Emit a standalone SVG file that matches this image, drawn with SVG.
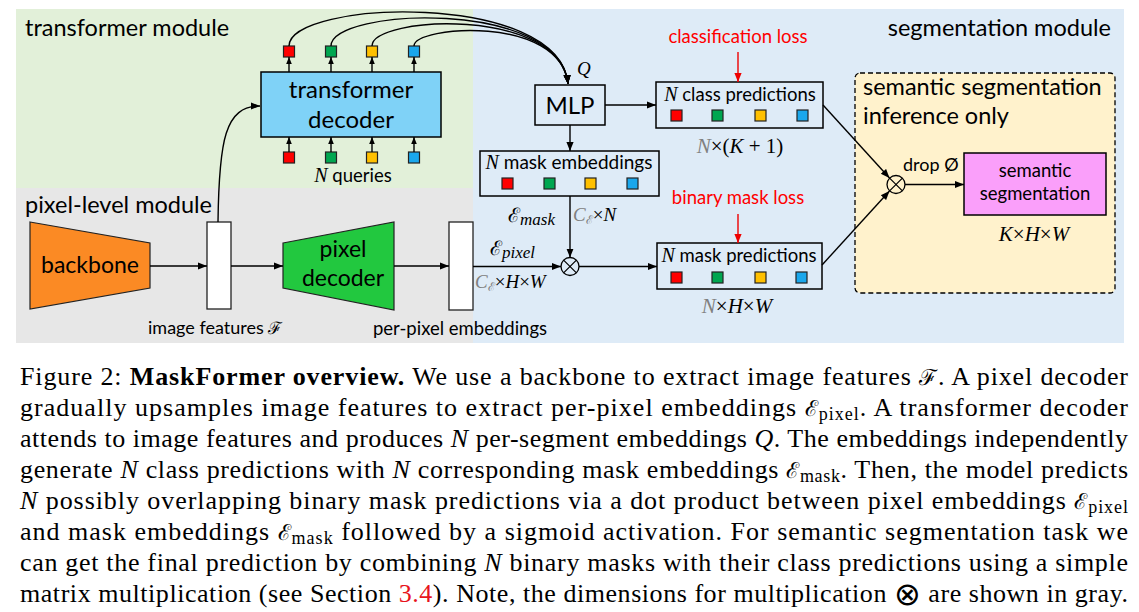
<svg xmlns="http://www.w3.org/2000/svg" width="1139" height="612" viewBox="0 0 1139 612">
<defs>
<marker id="arr" viewBox="0 0 10 10" refX="10" refY="5" markerWidth="9" markerHeight="9" markerUnits="userSpaceOnUse" orient="auto">
<path d="M0,1 L10,5 L0,9 z" fill="#000"/>
</marker>
<marker id="arrs" viewBox="0 0 10 10" refX="10" refY="5" markerWidth="7" markerHeight="7" markerUnits="userSpaceOnUse" orient="auto">
<path d="M0,1 L10,5 L0,9 z" fill="#000"/>
</marker>
<marker id="arrr" viewBox="0 0 10 10" refX="10" refY="5" markerWidth="9" markerHeight="9" markerUnits="userSpaceOnUse" orient="auto">
<path d="M0,1 L10,5 L0,9 z" fill="#e00"/>
</marker>
</defs>
<style>
.lbl{font-family:Lato,"Open Sans","Liberation Sans",sans-serif;fill:#000}
.mod{font-size:23.5px}
.box{stroke:#000;stroke-width:1.5}
.sq{stroke:#222;stroke-width:1.2}
.r{fill:#ff0000}.g{fill:#00a650}.y{fill:#ffc000}.b{fill:#1aa7ec}
.ln{fill:none;stroke:#000;stroke-width:1.4}
.red{fill:none;stroke:#e00;stroke-width:1.4}
.m{font-family:"Liberation Serif","DejaVu Serif",serif}
.it{font-style:italic}
.gray{fill:#808080}
.loss{font-family:Lato,"Open Sans","Liberation Sans",sans-serif;fill:#ff0000;font-size:18.5px}
.cap{font-family:"Liberation Serif","Times New Roman",serif;font-size:26px;fill:#000}
.cal{font-family:"DejaVu Serif",serif}
</style>

<!-- backgrounds -->
<rect x="16" y="9" width="457" height="179" fill="#e2f0d9"/>
<rect x="16" y="188" width="457" height="155" fill="#e7e7e7"/>
<rect x="473" y="9" width="651" height="334" fill="#deebf7"/>
<text class="lbl mod" x="25" y="36">transformer module</text>
<text class="lbl mod" x="25" y="213">pixel-level module</text>
<text class="lbl mod" x="1111" y="36" text-anchor="end">segmentation module</text>

<!-- segmentation inference area -->
<g id="inference">
<rect x="855" y="73" width="260" height="220" rx="5" fill="#fff2cc" stroke="#000" stroke-width="1.3" stroke-dasharray="5,3"/>
<text class="lbl" x="863" y="95" font-size="23.5">semantic segmentation</text>
<text class="lbl" x="863" y="124" font-size="23.5">inference only</text>
</g>

<g id="transformer-decoder">
<rect class="box" x="261" y="72" width="180" height="65" fill="#7fd2f7"/>
<text class="lbl" x="351" y="98" font-size="24" text-anchor="middle">transformer</text>
<text class="lbl" x="351" y="128" font-size="24" text-anchor="middle">decoder</text>
</g>

<g id="output-queries">
<rect class="sq r" x="283.5" y="46" width="11" height="11"/>
<rect class="sq g" x="325.5" y="46" width="11" height="11"/>
<rect class="sq y" x="366.5" y="46" width="11" height="11"/>
<rect class="sq b" x="408.5" y="46" width="11" height="11"/>
</g>

<g id="queries">
<rect class="sq r" x="283.5" y="152" width="11" height="11"/>
<rect class="sq g" x="325.5" y="152" width="11" height="11"/>
<rect class="sq y" x="366.5" y="152" width="11" height="11"/>
<rect class="sq b" x="408.5" y="152" width="11" height="11"/>
<text x="353" y="182" text-anchor="middle"><tspan class="m it" font-size="20">N</tspan><tspan class="lbl" font-size="18.5"> queries</tspan></text>
</g>

<g id="mlp">
<rect class="box" x="535" y="85" width="70" height="40" fill="#deebf7"/>
<text class="lbl" x="570" y="114" font-size="24" text-anchor="middle">MLP</text>
</g>

<g id="class-predictions">
<rect class="box" x="656" y="82" width="167" height="46" fill="#deebf7"/>
<text x="740" y="101" text-anchor="middle"><tspan class="m it" font-size="20">N</tspan><tspan class="lbl" font-size="18.5"> class predictions</tspan></text>
<rect class="sq r" x="671" y="110" width="11" height="11"/>
<rect class="sq g" x="712" y="110" width="11" height="11"/>
<rect class="sq y" x="755" y="110" width="11" height="11"/>
<rect class="sq b" x="797" y="110" width="11" height="11"/>
<text class="m" x="740" y="153" font-size="21" text-anchor="middle"><tspan class="it gray">N</tspan>×(<tspan class="it">K</tspan> + 1)</text>
<text class="loss" x="738" y="43" text-anchor="middle">classification loss</text>
</g>

<g id="mask-embeddings">
<rect class="box" x="480" y="151" width="179" height="45" fill="#deebf7"/>
<text x="569" y="169" text-anchor="middle"><tspan class="m it" font-size="20">N</tspan><tspan class="lbl" font-size="19"> mask embeddings</tspan></text>
<rect class="sq r" x="502" y="178" width="11" height="11"/>
<rect class="sq g" x="544" y="178" width="11" height="11"/>
<rect class="sq y" x="585" y="178" width="11" height="11"/>
<rect class="sq b" x="627" y="178" width="11" height="11"/>
<text x="508" y="222"><tspan class="cal" font-size="20">ℰ</tspan><tspan class="m it" font-size="17" dy="3">mask</tspan></text>
<text class="m" x="573" y="221" font-size="19"><tspan class="it gray">C</tspan><tspan class="cal gray" font-size="12" dy="3">ℰ</tspan><tspan dy="-3">×</tspan><tspan class="it">N</tspan></text>
</g>

<g id="backbone">
<path d="M30,222 L150,243 L150,288 L30,309 Z" fill="#fb8a24" stroke="#222" stroke-width="1.2"/>
<text class="lbl" x="90" y="273" font-size="23" text-anchor="middle">backbone</text>
</g>

<g id="image-features">
<rect x="207" y="222" width="24" height="87" fill="#fff" stroke="#222" stroke-width="1.3"/>
<text x="148" y="334"><tspan class="lbl" font-size="18">image features </tspan><tspan class="cal" font-size="17">ℱ</tspan></text>
</g>

<g id="pixel-decoder">
<path d="M283,243 L394,222 L394,310 L283,288 Z" fill="#22c83f" stroke="#222" stroke-width="1.2"/>
<text class="lbl" x="343" y="257" font-size="23" text-anchor="middle">pixel</text>
<text class="lbl" x="343" y="286" font-size="23" text-anchor="middle">decoder</text>
</g>

<g id="per-pixel-embeddings">
<rect x="449" y="222" width="24" height="88" fill="#fff" stroke="#222" stroke-width="1.3"/>
<text class="lbl" x="460" y="335" font-size="18.5" text-anchor="middle">per-pixel embeddings</text>
<text x="490" y="255"><tspan class="cal" font-size="20">ℰ</tspan><tspan class="m it" font-size="17" dy="3">pixel</tspan></text>
<text class="m" x="475" y="288" font-size="19"><tspan class="it gray">C</tspan><tspan class="cal gray" font-size="12" dy="3">ℰ</tspan><tspan dy="-3">×</tspan><tspan class="it">H</tspan>×<tspan class="it">W</tspan></text>
</g>

<g id="mult1">
<circle cx="570" cy="266.5" r="9" fill="none" stroke="#000" stroke-width="1.3"/>
<path d="M563.6,260.1 L576.4,272.9 M576.4,260.1 L563.6,272.9" stroke="#000" stroke-width="1.2"/>
</g>

<g id="mask-predictions">
<rect class="box" x="657" y="243" width="165" height="46" fill="#deebf7"/>
<text x="739" y="262" text-anchor="middle"><tspan class="m it" font-size="20">N</tspan><tspan class="lbl" font-size="18.5"> mask predictions</tspan></text>
<rect class="sq r" x="671" y="272" width="11" height="11"/>
<rect class="sq g" x="712" y="272" width="11" height="11"/>
<rect class="sq y" x="755" y="272" width="11" height="11"/>
<rect class="sq b" x="796" y="272" width="11" height="11"/>
<text class="m" x="737" y="313" font-size="21" text-anchor="middle"><tspan class="it gray">N</tspan>×<tspan class="it">H</tspan>×<tspan class="it">W</tspan></text>
<text class="loss" x="738" y="204" text-anchor="middle">binary mask loss</text>
</g>

<g id="mult2">
<circle cx="896" cy="184.5" r="9" fill="none" stroke="#000" stroke-width="1.3"/>
<path d="M889.6,178.1 L902.4,190.9 M902.4,178.1 L889.6,190.9" stroke="#000" stroke-width="1.2"/>
<text class="lbl" x="903" y="171" font-size="18">drop Ø</text>
</g>

<g id="semantic-segmentation">
<rect class="box" x="964" y="153" width="142" height="62" fill="#fa9ffa"/>
<text class="lbl" x="1035" y="177" font-size="18.5" text-anchor="middle">semantic</text>
<text class="lbl" x="1035" y="200" font-size="18.5" text-anchor="middle">segmentation</text>
<text class="m" x="1034" y="241" font-size="21" text-anchor="middle"><tspan class="it">K</tspan>×<tspan class="it">H</tspan>×<tspan class="it">W</tspan></text>
</g>

<g id="connectors">
<line class="ln" x1="289" y1="72" x2="289" y2="57" marker-end="url(#arrs)"/>
<line class="ln" x1="331" y1="72" x2="331" y2="57" marker-end="url(#arrs)"/>
<line class="ln" x1="372" y1="72" x2="372" y2="57" marker-end="url(#arrs)"/>
<line class="ln" x1="414" y1="72" x2="414" y2="57" marker-end="url(#arrs)"/>
<line class="ln" x1="289" y1="152" x2="289" y2="137" marker-end="url(#arrs)"/>
<line class="ln" x1="331" y1="152" x2="331" y2="137" marker-end="url(#arrs)"/>
<line class="ln" x1="372" y1="152" x2="372" y2="137" marker-end="url(#arrs)"/>
<line class="ln" x1="414" y1="152" x2="414" y2="137" marker-end="url(#arrs)"/>
<path class="ln" d="M289,46 C289,0 560,-10 568,84" marker-end="url(#arr)"/>
<path class="ln" d="M331,46 C331,8 560,-2 568,84" marker-end="url(#arr)"/>
<path class="ln" d="M372,46 C372,16 560,6 568,84" marker-end="url(#arr)"/>
<path class="ln" d="M414,46 C414,26 560,14 568,84" marker-end="url(#arr)"/>
<text class="m it" x="577" y="75" font-size="19">Q</text>
<path class="ln" d="M218,222 C219,140 225,106 260,106" marker-end="url(#arr)"/>
<line class="ln" x1="605" y1="105" x2="656" y2="105" marker-end="url(#arr)"/>
<line class="ln" x1="570" y1="125" x2="570" y2="151" marker-end="url(#arr)"/>
<line class="red" x1="738" y1="52" x2="738" y2="82" marker-end="url(#arrr)"/>
<line class="red" x1="738" y1="214" x2="738" y2="243" marker-end="url(#arrr)"/>
<line class="ln" x1="570" y1="196" x2="570" y2="257.5" marker-end="url(#arr)"/>
<line class="ln" x1="150" y1="266" x2="207" y2="266" marker-end="url(#arr)"/>
<line class="ln" x1="231" y1="266" x2="283" y2="266" marker-end="url(#arr)"/>
<line class="ln" x1="394" y1="266" x2="449" y2="266" marker-end="url(#arr)"/>
<line class="ln" x1="473" y1="266.5" x2="561" y2="266.5" marker-end="url(#arr)"/>
<line class="ln" x1="579" y1="266.5" x2="657" y2="266.5" marker-end="url(#arr)"/>
<line class="ln" x1="823" y1="105" x2="889.5" y2="178" marker-end="url(#arr)"/>
<line class="ln" x1="822" y1="265" x2="889.5" y2="191" marker-end="url(#arr)"/>
<line class="ln" x1="905" y1="184.5" x2="964" y2="184.5" marker-end="url(#arr)"/>
</g>

<g id="caption">
<text class="cap" x="20" y="385" textLength="1108" lengthAdjust="spacing">Figure 2: <tspan font-weight="bold">MaskFormer overview.</tspan> We use a backbone to extract image features <tspan class="cal" font-size="22">ℱ</tspan>. A pixel decoder</text>
<text class="cap" x="20" y="416" textLength="1108" lengthAdjust="spacing">gradually upsamples image features to extract per-pixel embeddings <tspan class="cal" font-size="22">ℰ</tspan><tspan font-size="18" dy="4">pixel</tspan><tspan dy="-4">. A transformer decoder</tspan></text>
<text class="cap" x="20" y="447" textLength="1108" lengthAdjust="spacing">attends to image features and produces <tspan font-style="italic">N</tspan> per-segment embeddings <tspan font-style="italic">Q</tspan>. The embeddings independently</text>
<text class="cap" x="20" y="478" textLength="1108" lengthAdjust="spacing">generate <tspan font-style="italic">N</tspan> class predictions with <tspan font-style="italic">N</tspan> corresponding mask embeddings <tspan class="cal" font-size="22">ℰ</tspan><tspan font-size="18" dy="4">mask</tspan><tspan dy="-4">. Then, the model predicts</tspan></text>
<text class="cap" x="20" y="509" textLength="1108" lengthAdjust="spacing"><tspan font-style="italic">N</tspan> possibly overlapping binary mask predictions via a dot product between pixel embeddings <tspan class="cal" font-size="22">ℰ</tspan><tspan font-size="18" dy="4">pixel</tspan></text>
<text class="cap" x="20" y="540" textLength="1108" lengthAdjust="spacing">and mask embeddings <tspan class="cal" font-size="22">ℰ</tspan><tspan font-size="18" dy="4">mask</tspan><tspan dy="-4"> followed by a sigmoid activation. For semantic segmentation task we</tspan></text>
<text class="cap" x="20" y="571" textLength="1108" lengthAdjust="spacing">can get the final prediction by combining <tspan font-style="italic">N</tspan> binary masks with their class predictions using a simple</text>
<text class="cap" x="20" y="602" textLength="1108" lengthAdjust="spacing">matrix multiplication (see Section <tspan fill="#e8141b">3.4</tspan>). Note, the dimensions for multiplication <tspan font-family="'DejaVu Sans',sans-serif" font-size="32" dy="3">⊗</tspan><tspan dy="-3"> are shown in gray.</tspan></text>
</g>
</svg>
